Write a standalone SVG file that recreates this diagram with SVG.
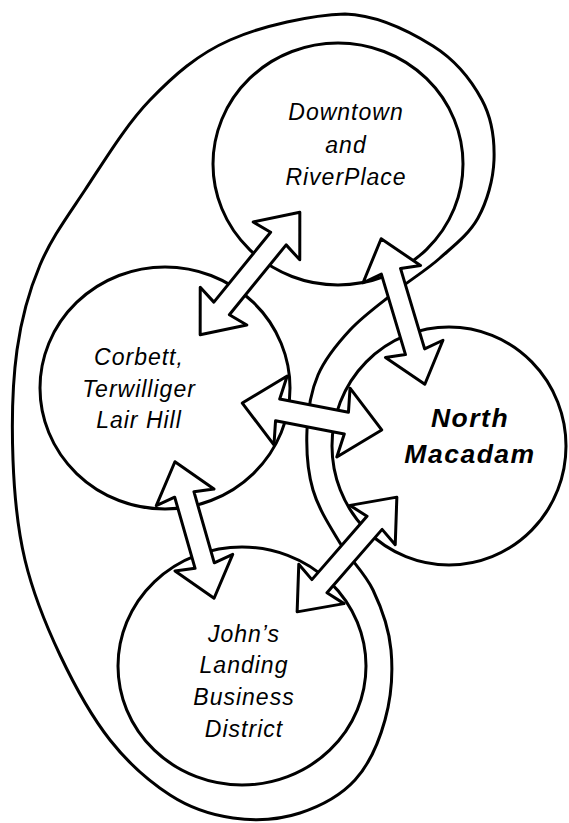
<svg xmlns="http://www.w3.org/2000/svg" width="569" height="823" viewBox="0 0 569 823">
<style>
.ln{fill:none;stroke:#000;stroke-width:3;stroke-linejoin:round;stroke-linecap:round}
.arr{fill:#fff;stroke:#000;stroke-width:3;stroke-linejoin:round}
.lbl{font-family:"Liberation Sans",Arial,Helvetica,sans-serif;font-style:italic;font-size:23px;letter-spacing:1px;fill:#000;text-anchor:middle}
.bold{font-weight:bold;font-size:26.5px;letter-spacing:1.5px}
</style>
<rect width="569" height="823" fill="#fff"/>
<g id="boundary">
<path class="ln" d="M345,14 C378.8,15 410.2,31.7 433,46 S471.8,81 482,100 S494.7,140.3 494,160 S487,201.7 478,218 S453.8,245.7 440,258 S410,280 395,292 S362.8,316.2 350,330 S325.2,358.3 318,375 S307.8,410.8 307,430 S307.5,471.2 313,490 S330,526.3 340,543 S364.5,572.2 373,590 S389,628.3 391,650 S391,698.3 385,720 S369.2,764.5 355,780 S320.3,806.3 300,813 S254.7,821 233,818 S190.5,808.3 170,795 S128.3,763.3 110,740 S74.2,685 60,655 S32.8,592.5 25,560 S14.3,495 13,460 S12.5,382.5 17,350 S28.7,291.7 40,265 S66.7,217.5 85,190 S125.8,125 150,100 S197.5,54.3 230,40 S311.2,15 345,14 Z"/>
</g>
<g id="downtown">
<ellipse class="ln" cx="338" cy="164" rx="125" ry="121"/>
<text class="lbl" x="346" y="120">Downtown</text>
<text class="lbl" x="346" y="152.5">and</text>
<text class="lbl" x="346" y="184.5">RiverPlace</text>
</g>
<g id="corbett">
<ellipse class="ln" cx="165" cy="388" rx="125" ry="121"/>
<text class="lbl" x="139" y="365">Corbett,</text>
<text class="lbl" x="139" y="396.5">Terwilliger</text>
<text class="lbl" x="139" y="428">Lair Hill</text>
</g>
<g id="north-macadam">
<ellipse class="ln" cx="449" cy="446" rx="117" ry="119"/>
<text class="lbl bold" x="470" y="427">North</text>
<text class="lbl bold" x="470" y="463">Macadam</text>
</g>
<g id="johns-landing">
<ellipse class="ln" cx="242" cy="666" rx="124" ry="119"/>
<text class="lbl" x="244" y="641.5">John’s</text>
<text class="lbl" x="244" y="673">Landing</text>
<text class="lbl" x="244" y="705">Business</text>
<text class="lbl" x="244" y="736.5">District</text>
</g>
<g id="connectors">
<polygon class="arr" transform="translate(250,273.5) rotate(-50.9)" points="79,0 42,30 45,10 -45,10 -42,30 -79,0 -42,-30 -45,-10 45,-10 42,-30"/>
<polygon class="arr" transform="translate(403,311.5) rotate(73.3)" points="76,0 39,30 42,10 -42,10 -39,30 -76,0 -39,-30 -42,-10 42,-10 39,-30"/>
<polygon class="arr" transform="translate(312,416.5) rotate(10.9)" points="71,0 32,35 35,11 -35,11 -32,35 -71,0 -32,-35 -35,-11 35,-11 32,-35"/>
<polygon class="arr" transform="translate(194.5,530) rotate(74)" points="71,0 34,30 37,10 -37,10 -34,30 -71,0 -34,-30 -37,-10 37,-10 34,-30"/>
<polygon class="arr" transform="translate(347,554.5) rotate(131)" points="76,0 39,30 42,10 -42,10 -39,30 -76,0 -39,-30 -42,-10 42,-10 39,-30"/>
</g>
</svg>
